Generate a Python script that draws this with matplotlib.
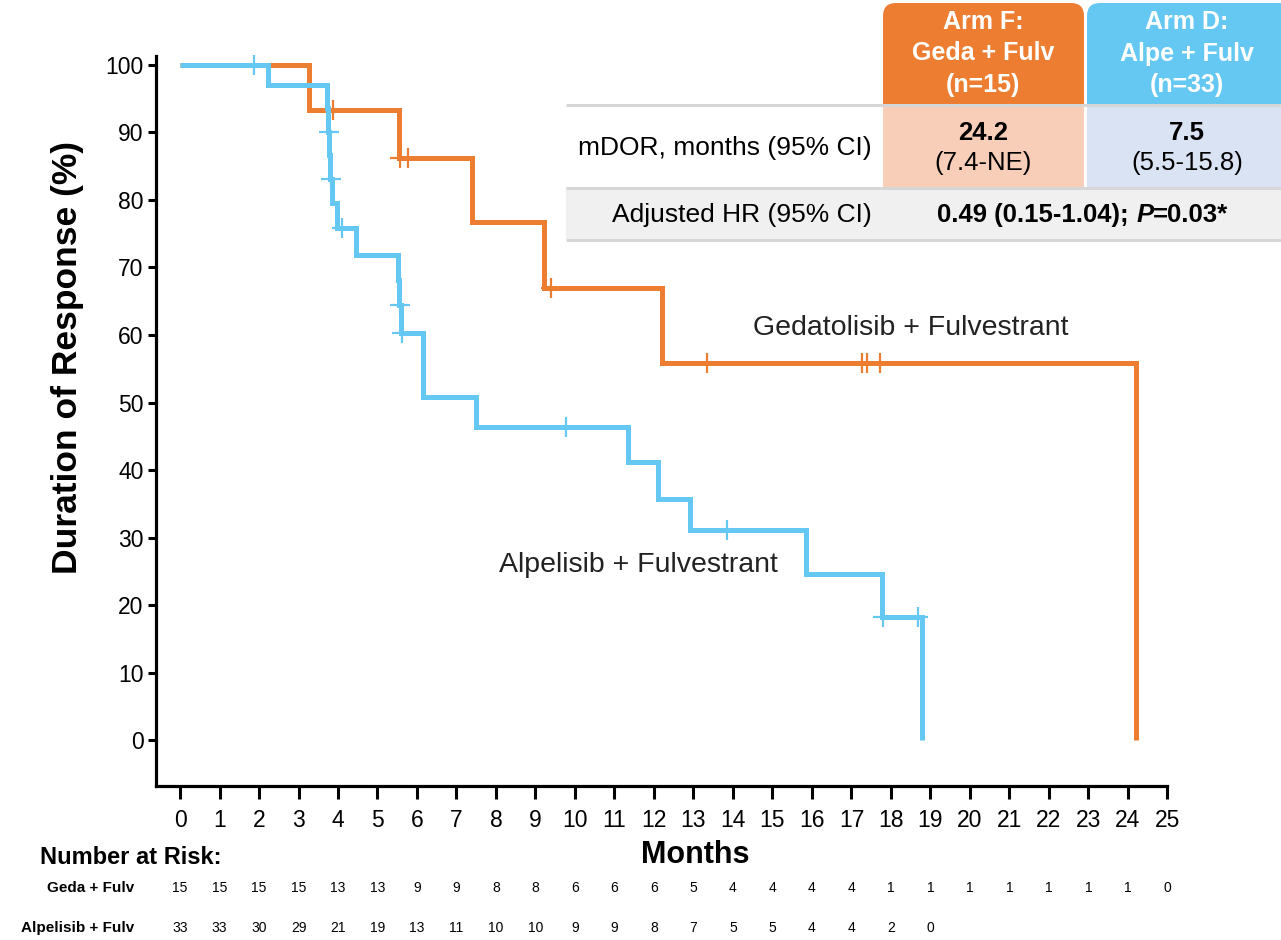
import matplotlib
matplotlib.use("Agg")
import matplotlib.pyplot as plt
from matplotlib.patches import Rectangle, FancyBboxPatch
from matplotlib import transforms
import numpy as np

plt.rcParams['font.family'] = ['Liberation Sans', 'DejaVu Sans']

# ---------------- data ----------------
geda_event_times = [3.27, 5.55, 7.39, 9.22, 12.2, 24.2]
geda_event_surv = [93.3, 86.2, 76.7, 67.0, 55.9, 0.0]
geda_censor_times = [3.87, 5.58, 5.77, 9.39, 13.34, 17.27, 17.39, 17.72]

alpe_event_times = [2.23, 3.72, 3.75, 3.78, 3.81, 3.85, 3.97, 4.46, 5.52, 5.55, 5.60,
                    6.15, 7.49, 11.34, 12.1, 12.91, 15.85, 17.77, 18.78]
alpe_event_surv = [96.97, 93.6, 90.1, 86.6, 83.1, 79.6, 75.9, 71.9, 68.2, 64.4, 60.3,
                   50.8, 46.4, 41.2, 35.7, 31.1, 24.6, 18.2, 0.0]
alpe_censor_times = [1.87, 3.76, 3.82, 4.10, 5.56, 5.62, 9.77, 13.85, 17.80, 18.68]

x_ticks = list(range(0, 26))
y_ticks = list(range(0, 101, 10))

geda_risk = [15, 15, 15, 15, 13, 13, 9, 9, 8, 8, 6, 6, 6, 5, 4, 4, 4, 4, 1, 1, 1, 1, 1, 1, 1, 0]
alpe_risk = [33, 33, 30, 29, 21, 19, 13, 11, 10, 10, 9, 9, 8, 7, 5, 5, 4, 4, 2, 0]

geda_label = "Gedatolisib + Fulvestrant"
alpe_label = "Alpelisib + Fulvestrant"
risk_row_labels = ["Geda + Fulv", "Alpelisib + Fulv"]

header_f = ["Arm F:", "Geda + Fulv", "(n=15)"]
header_d = ["Arm D:", "Alpe + Fulv", "(n=33)"]
mdor_label = "mDOR, months (95% CI)"
mdor_f = ("24.2", "(7.4-NE)")
mdor_d = ("7.5", "(5.5-15.8)")
hr_label = "Adjusted HR (95% CI)"
hr_parts = ["0.49 (0.15-1.04); ", "P", "=0.03*"]

ORANGE = "#ED7D31"
BLUE = "#65C8F2"
LIGHT_OR = "#F9CEB9"
LIGHT_BL = "#DAE3F3"
GRAY_ROW = "#F0F0F0"
GRAY_LINE = "#D6D6D6"
TXT = "#222222"

W, H = 1281, 940
fig = plt.figure(figsize=(W / 100, H / 100), dpi=100)

ax = fig.add_axes([156 / W, 1 - 786 / H, (1169 - 156) / W, (786 - 56) / H])
ax.set_xlim(-0.608, 25.04)
ax.set_ylim(-6.81, 101.33)


def step_xy(times, surv):
    xs = [0.0] + list(times)
    ys = [100.0] + list(surv)
    return xs, ys


def surv_at(t, times, surv):
    s = 100.0
    for tt, ss in zip(times, surv):
        if tt <= t:
            s = ss
    return s


gx, gy = step_xy(geda_event_times, geda_event_surv)
ax.plot(gx, gy, drawstyle="steps-post", color=ORANGE, lw=3.6, clip_on=False,
        solid_capstyle="butt", solid_joinstyle="miter", zorder=3)
ax.plot(geda_censor_times, [surv_at(t, geda_event_times, geda_event_surv) for t in geda_censor_times],
        ls="none", marker="+", ms=15, mew=1.6, color=ORANGE, zorder=3, clip_on=False)

bx, by = step_xy(alpe_event_times, alpe_event_surv)
ax.plot(bx, by, drawstyle="steps-post", color=BLUE, lw=3.6, clip_on=False,
        solid_capstyle="butt", solid_joinstyle="miter", zorder=4)
ax.plot(alpe_censor_times, [surv_at(t, alpe_event_times, alpe_event_surv) for t in alpe_censor_times],
        ls="none", marker="+", ms=15, mew=1.6, color=BLUE, zorder=4, clip_on=False)

# axes styling
for s in ["top", "right"]:
    ax.spines[s].set_visible(False)
for s in ["left", "bottom"]:
    ax.spines[s].set_linewidth(2.3)
ax.spines["bottom"].set_bounds(-0.608, 25.0)
ax.set_xticks(x_ticks)
ax.set_yticks(y_ticks)
ax.tick_params(axis="x", length=9.5, width=2.2, pad=7, labelsize=16.5)
ax.tick_params(axis="y", length=6, width=2.2, pad=3, labelsize=16.5)

ax.text(14.5, 61.0, geda_label, fontsize=20.5, color=TXT, ha="left", va="center")
ax.text(8.08, 25.9, alpe_label, fontsize=20.5, color=TXT, ha="left", va="center")

# overlay in pixel coordinates
ov = fig.add_axes([0, 0, 1, 1])
ov.set_xlim(0, W)
ov.set_ylim(H, 0)
ov.axis("off")

fig.text(68 / W, 1 - 357 / H, "Duration of Response (%)", rotation=90, fontsize=25.5,
         fontweight="bold", ha="center", va="center")
ov.text(695, 855, "Months", fontsize=22, fontweight="bold", ha="center", va="center")
ov.text(40, 857, "Number at Risk:", fontsize=17, fontweight="bold", ha="left", va="center")

risk_tr = transforms.blended_transform_factory(ax.transData, ov.transData)
ov.text(134, 888, risk_row_labels[0], fontsize=11, fontweight="bold", ha="right", va="center")
ov.text(134, 928, risk_row_labels[1], fontsize=11, fontweight="bold", ha="right", va="center")
for m, v in zip(x_ticks, geda_risk):
    ov.text(m, 888, str(v), transform=risk_tr, fontsize=10, ha="center", va="center")
for m, v in zip(x_ticks, alpe_risk):
    ov.text(m, 928, str(v), transform=risk_tr, fontsize=10, ha="center", va="center")

# ---------------- table ----------------
ov.add_patch(FancyBboxPatch((883, 3), 201, 130, boxstyle="round,pad=0,rounding_size=13",
                            fc=ORANGE, ec="none", clip_on=False))
ov.add_patch(FancyBboxPatch((1087, 3), 230, 130, boxstyle="round,pad=0,rounding_size=13",
                            fc=BLUE, ec="none", clip_on=False))
ov.add_patch(Rectangle((566, 104), 317, 84, fc="white", ec="none"))
ov.add_patch(Rectangle((883, 104), 201, 84, fc=LIGHT_OR, ec="none"))
ov.add_patch(Rectangle((1084, 104), 3, 84, fc="white", ec="none"))
ov.add_patch(Rectangle((1087, 104), 200, 84, fc=LIGHT_BL, ec="none"))
ov.add_patch(Rectangle((566, 188), 720, 51, fc=GRAY_ROW, ec="none"))
for yl in [104.5, 188, 239.5]:
    ov.plot([566, 1281], [yl, yl], color=GRAY_LINE, lw=2.2, solid_capstyle="butt")

for i, (tf, td) in enumerate(zip(header_f, header_d)):
    yy = 22 + i * 31.5
    ov.text(983, yy, tf, color="white", fontsize=18, fontweight="bold", ha="center", va="center")
    ov.text(1187, yy, td, color="white", fontsize=18, fontweight="bold", ha="center", va="center")

ov.text(872, 148, mdor_label, fontsize=19, ha="right", va="center", color="black")
ov.text(983, 133, mdor_f[0], fontsize=18.5, fontweight="bold", ha="center", va="center")
ov.text(983, 163, mdor_f[1], fontsize=18.5, ha="center", va="center")
ov.text(1187, 133, mdor_d[0], fontsize=18.5, fontweight="bold", ha="center", va="center")
ov.text(1187, 163, mdor_d[1], fontsize=18.5, ha="center", va="center")
ov.text(872, 215, hr_label, fontsize=19, ha="right", va="center")

styles = ["normal", "italic", "normal"]
parts = [ov.text(0, 215, p, fontsize=18.5, fontweight="bold", fontstyle=st, ha="left", va="center")
         for p, st in zip(hr_parts, styles)]
fig.canvas.draw()
r = fig.canvas.get_renderer()
inv = ov.transData.inverted()
widths = []
for t in parts:
    bb = t.get_window_extent(r)
    (x0, _), (x1, _) = inv.transform([[bb.x0, bb.y0], [bb.x1, bb.y1]])
    widths.append(x1 - x0)
total = sum(widths)
xs = 1083 - total / 2
for t, wdt in zip(parts, widths):
    t.set_x(xs)
    xs += wdt

fig.savefig("out.png", dpi=100)
